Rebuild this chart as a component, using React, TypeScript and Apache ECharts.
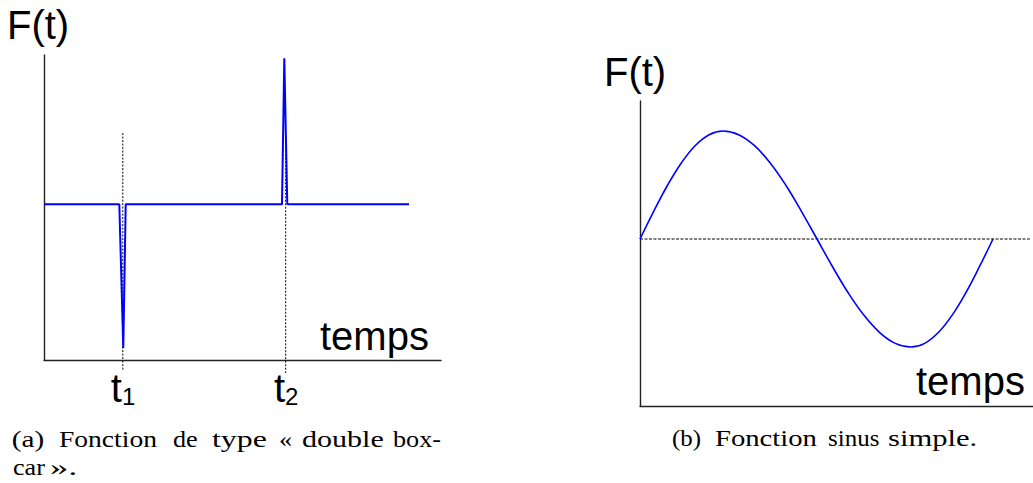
import React, { useEffect, useRef } from 'react';
import * as echarts from 'echarts';

// ---- Panel (a): double boxcar ----
const boxcarT = [0, 18.97, 19.97, 20.58, 59.95, 60.53, 61.28, 91.94];
const boxcarF = [51.05, 51.05, 3.93, 51.05, 51.05, 98.92, 51.05, 51.05];
const guideT = [19.85, 60.88];
const guideTop = [74.4, 73.2];
const guideBottom = [-3.3, -4.3];
const tickValues = [19.9, 61.0];
const tickSubscripts = ['1', '2'];

// ---- Panel (b): simple sine ----
const sineT = [0, 3.52, 7.04, 10.56, 14.08, 17.6, 21.12, 25.11, 29.08, 33.08, 37.07, 41.04, 45.04,
  49.03, 53.0, 57.0, 60.99, 64.96, 68.96, 72.44, 75.9, 79.39, 82.87, 86.34, 89.82];
const sineF = [54.75, 63.92, 72.46, 79.78, 85.42, 88.96, 90.16, 88.96, 85.42, 79.78, 72.46, 63.92, 54.75,
  45.58, 37.05, 29.72, 24.08, 20.54, 19.34, 20.54, 24.08, 29.72, 37.05, 45.58, 54.75];
const zeroLineT = [0, 99.2];
const zeroLineF = 54.75;

// ---- Texts ----
const yLabel = 'F(t)';
const xLabel = 'temps';
const captionA1 = ['(a)', 'Fonction', 'de', 'type', '«', 'double', 'box-'];
const captionA2 = ['car', '».'];
const captionB = ['(b)', 'Fonction', 'sinus', 'simple.'];

// layout: ink extents [left, right] of each caption word, in pixels
const captionA1Ext = [[13, 43], [59, 157], [173, 197], [212, 266], [280, 292], [302, 383], [393, 441]];
const captionA2Ext = [[13, 45], [50, 76]];
const captionBExt = [[673, 700], [715, 817], [828, 879], [888, 976]];

const SANS = '"Liberation Sans", Arial, sans-serif';
const SERIF = '"Liberation Serif", "Times New Roman", serif';
const SERIF_SIZE = 24;
const AXIS_COLOR = '#222';

function sansText(text: string, x: number, y: number) {
  return {
    type: 'text', x, y, silent: true,
    style: { text, fontSize: 40, fontFamily: SANS, fill: '#000', align: 'left', verticalAlign: 'middle' },
  };
}

let measureCtx: CanvasRenderingContext2D | null = null;
function fitWord(text: string, ext: number[], y: number) {
  if (!measureCtx) measureCtx = document.createElement('canvas').getContext('2d');
  let scale = 1.12;
  let x = ext[0];
  if (measureCtx) {
    measureCtx.font = `${SERIF_SIZE}px ${SERIF}`;
    const m = measureCtx.measureText(text);
    const ink = (m.actualBoundingBoxLeft || 0) + (m.actualBoundingBoxRight || m.width);
    if (ink > 0) scale = (ext[1] - ext[0]) / ink;
    x = ext[0] + (m.actualBoundingBoxLeft || 0) * scale;
  }
  return {
    type: 'text', x, y, scaleX: scale, silent: true,
    style: { text, fontSize: SERIF_SIZE, fontFamily: SERIF, fill: '#000', align: 'left', verticalAlign: 'middle' },
  };
}

export default function App() {
  const ref = useRef<HTMLDivElement>(null);
  useEffect(() => {
    const chart = echarts.init(ref.current!, null, { renderer: 'svg' });
    const axisCommon = {
      type: 'value', min: 0, max: 100,
      splitLine: { show: false },
      axisTick: { show: false },
      axisLine: { show: true, onZero: false, lineStyle: { color: AXIS_COLOR, width: 1.4 } },
    };
    const option: any = {
      animation: false,
      backgroundColor: '#fff',
      grid: [
        { left: 44, top: 55, width: 397, height: 305 },
        { left: 640, top: 101, width: 393, height: 305 },
      ],
      xAxis: [
        {
          ...axisCommon, gridIndex: 0,
          axisLabel: {
            show: true, margin: 8,
            customValues: tickValues,
            formatter: (v: number) => {
              const i = tickValues.findIndex((t) => Math.abs(t - v) < 1e-6);
              return `{t|t}{s|${tickSubscripts[i] ?? ''}}`;
            },
            rich: {
              t: { fontSize: 40, fontFamily: SANS, color: '#000', lineHeight: 40, verticalAlign: 'bottom' },
              s: { fontSize: 24, fontFamily: SANS, color: '#000', lineHeight: 16, verticalAlign: 'bottom' },
            },
          },
        },
        { ...axisCommon, gridIndex: 1, axisLabel: { show: false } },
      ],
      yAxis: [
        { ...axisCommon, gridIndex: 0, axisLabel: { show: false } },
        { ...axisCommon, gridIndex: 1, axisLabel: { show: false } },
      ],
      series: [
        ...guideT.map((t, i) => ({
          type: 'line', xAxisIndex: 0, yAxisIndex: 0, clip: false, symbol: 'none', silent: true,
          data: [[t, guideTop[i]], [t, guideBottom[i]]],
          lineStyle: { color: '#000', width: 1, type: [2, 1.5] },
        })),
        {
          type: 'line', xAxisIndex: 0, yAxisIndex: 0, symbol: 'none', silent: true,
          data: boxcarT.map((t, i) => [t, boxcarF[i]]),
          lineStyle: { color: '#0000ff', width: 2 },
        },
        {
          type: 'line', xAxisIndex: 1, yAxisIndex: 1, clip: false, symbol: 'none', silent: true,
          data: zeroLineT.map((t) => [t, zeroLineF]),
          lineStyle: { color: '#000', width: 1, type: [3, 1.5] },
        },
        {
          type: 'line', xAxisIndex: 1, yAxisIndex: 1, symbol: 'none', silent: true, smooth: 0.4,
          data: sineT.map((t, i) => [t, sineF[i]]),
          lineStyle: { color: '#0000ff', width: 1.6 },
        },
      ],
      graphic: [
        sansText(yLabel, 7, 25),
        sansText(xLabel, 320, 336),
        sansText(yLabel, 604, 72),
        sansText(xLabel, 916, 381),
        ...captionA1.map((w, i) => fitWord(w, captionA1Ext[i], 439)),
        ...captionA2.map((w, i) => fitWord(w, captionA2Ext[i], 467)),
        ...captionB.map((w, i) => fitWord(w, captionBExt[i], 438)),
      ],
    };
    chart.setOption(option);
    return () => chart.dispose();
  }, []);
  return (
    <div
      ref={ref}
      style={{ position: 'absolute', left: 0, top: 0, width: 1033, height: 483, background: '#fff' }}
    />
  );
}
